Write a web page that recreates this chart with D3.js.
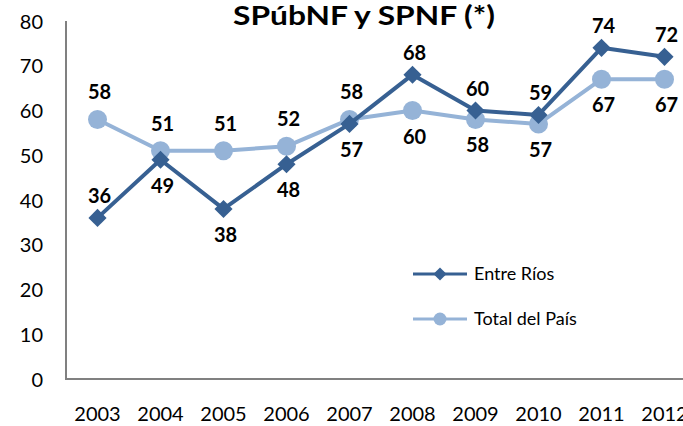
<!DOCTYPE html>
<html>
<head>
<meta charset="utf-8">
<script src="https://cdn.jsdelivr.net/npm/d3@7"></script>
<style>
  html, body { margin: 0; padding: 0; background: #fff; }
  svg { display: block; }
  text { font-family: Lato, "Open Sans", sans-serif; }
</style>
</head>
<body>
<svg id="chart" width="683" height="426"></svg>
<script>
const years = ["2003","2004","2005","2006","2007","2008","2009","2010","2011","2012"];
const entreRios = [36, 49, 38, 48, 57, 68, 60, 59, 74, 72];
const totalPais = [58, 51, 51, 52, 58, 60, 58, 57, 67, 67];
const yTicks = [0, 10, 20, 30, 40, 50, 60, 70, 80];
const seriesNames = ["Entre Ríos", "Total del País"];
const titleText = "SPúbNF y SPNF (*)";
const erLabelPos = ["above","below","below","below","below","above","above","above","above","above"];
const tpLabelPos = ["above","above","above","above","above","below","below","below","below","below"];

const svg = d3.select("#chart");
const darkBlue = "#376092";
const lightBlue = "#95b3d7";

const x = d3.scaleBand().domain(years).range([66, 696]);
const cx = d => x(d) + x.bandwidth() / 2;
const y = d3.scaleLinear().domain([0, 80]).range([379, 21]);

// title
svg.append("text")
  .attr("x", 364).attr("y", 25)
  .attr("text-anchor", "middle")
  .attr("font-size", 26).attr("font-weight", "bold")
  .attr("textLength", 262).attr("lengthAdjust", "spacingAndGlyphs")
  .attr("fill", "#000")
  .text(titleText);

// y axis
const yAxis = d3.axisLeft(y).tickValues(yTicks).tickSize(0).tickPadding(0);
const gy = svg.append("g").attr("transform", "translate(66,0)").call(yAxis);
gy.select(".domain").remove();
gy.selectAll("text")
  .attr("x", -23)
  .attr("dy", "0.35em")
  .attr("font-size", 20)
  .attr("font-family", "Lato, 'Open Sans', sans-serif")
  .attr("fill", "#000");
svg.append("line")
  .attr("x1", 66).attr("x2", 66).attr("y1", y(80)).attr("y2", y(0) + 1)
  .attr("stroke", "#808080").attr("stroke-width", 2);

// x axis
const xAxis = d3.axisBottom(x).tickSize(0).tickPadding(0);
const gx = svg.append("g").attr("transform", `translate(0,${y(0)})`).call(xAxis);
gx.select(".domain").remove();
gx.selectAll("text")
  .attr("y", 42)
  .attr("dy", 0)
  .attr("font-size", 20)
  .attr("font-family", "Lato, 'Open Sans', sans-serif")
  .attr("fill", "#000");
svg.append("line")
  .attr("x1", 65).attr("x2", 683).attr("y1", y(0)).attr("y2", y(0))
  .attr("stroke", "#808080").attr("stroke-width", 2);

const line = d3.line().x((d, i) => cx(years[i])).y(d => y(d));

// Total del País
svg.append("path").datum(totalPais)
  .attr("d", line).attr("fill", "none")
  .attr("stroke", lightBlue).attr("stroke-width", 4).attr("stroke-linejoin", "round");
svg.append("g").selectAll("circle").data(totalPais).join("circle")
  .attr("cx", (d, i) => cx(years[i])).attr("cy", d => y(d)).attr("r", 9.5)
  .attr("fill", lightBlue);

// Entre Ríos
svg.append("path").datum(entreRios)
  .attr("d", line).attr("fill", "none")
  .attr("stroke", darkBlue).attr("stroke-width", 4).attr("stroke-linejoin", "round");
const diamond = d3.symbol().type(d3.symbolDiamond2).size(210);
svg.append("g").selectAll("path").data(entreRios).join("path")
  .attr("d", diamond)
  .attr("transform", (d, i) => `translate(${cx(years[i])},${y(d)})`)
  .attr("fill", darkBlue);

// labels
function addLabels(vals, pos, aboveOff, belowOff) {
  svg.append("g").selectAll("text").data(vals).join("text")
    .attr("x", (d, i) => cx(years[i]) + 2)
    .attr("y", (d, i) => y(d) + (pos[i] === "above" ? aboveOff : belowOff))
    .attr("text-anchor", "middle")
    .attr("dy", "0.35em")
    .attr("font-size", 20).attr("font-weight", "bold")
    .attr("fill", "#000")
    .text(d => d);
}
addLabels(entreRios, erLabelPos, -22, 26);
addLabels(totalPais, tpLabelPos, -27, 26);

// legend
const legend = svg.append("g");
const legY = [274, 319];
legend.append("line").attr("x1", 413).attr("x2", 467).attr("y1", legY[0]).attr("y2", legY[0])
  .attr("stroke", darkBlue).attr("stroke-width", 3);
legend.append("path").attr("d", d3.symbol().type(d3.symbolDiamond2).size(110))
  .attr("transform", `translate(440,${legY[0]})`).attr("fill", darkBlue);
legend.append("line").attr("x1", 413).attr("x2", 467).attr("y1", legY[1]).attr("y2", legY[1])
  .attr("stroke", lightBlue).attr("stroke-width", 3);
legend.append("circle").attr("cx", 440).attr("cy", legY[1]).attr("r", 6.5).attr("fill", lightBlue);
legend.selectAll("text.leg").data(seriesNames).join("text")
  .attr("class", "leg")
  .attr("x", 474).attr("y", (d, i) => legY[i])
  .attr("dy", "0.35em")
  .attr("font-size", 18)
  .attr("fill", "#000")
  .text(d => d);
</script>
</body>
</html>
